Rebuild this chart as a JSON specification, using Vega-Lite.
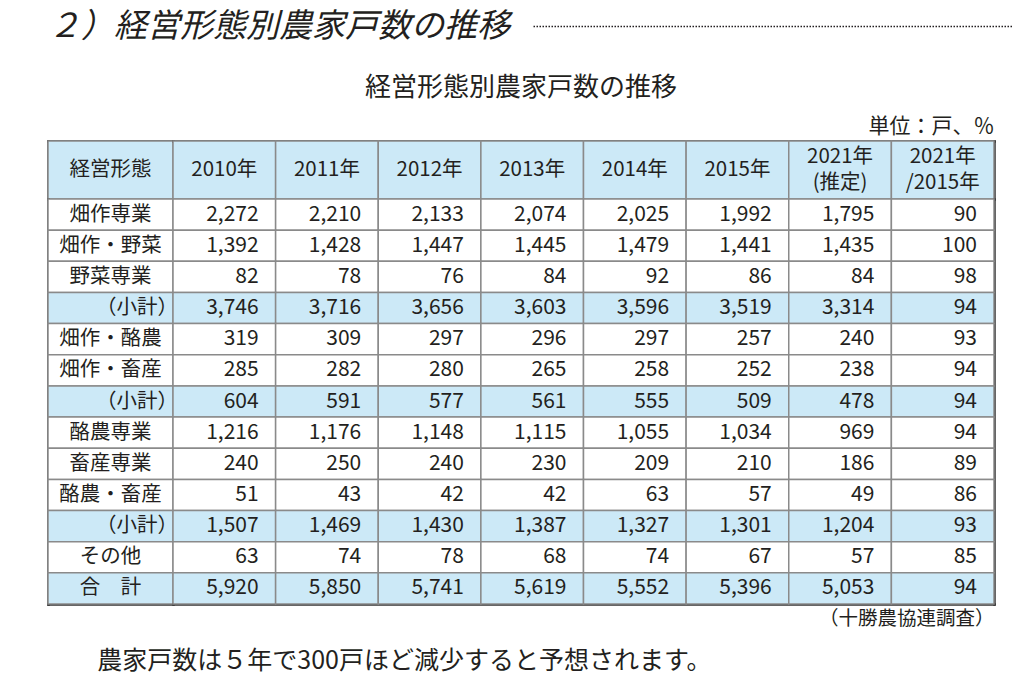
{
  "$schema": "https://vega.github.io/schema/vega-lite/v6.json",
  "background": "white",
  "padding": {"left": 47, "top": 11, "right": 0, "bottom": 8},
  "config": {
    "font": "Noto Sans CJK JP",
    "view": {"stroke": null},
    "axis": {
      "labels": false, "ticks": false, "grid": false,
      "domainColor": "#333333", "domainWidth": 2.5, "domainCap": "square", "zindex": 1,
      "titleFont": "Noto Sans CJK JP", "titleFontWeight": "normal", "titleColor": "#231f20"
    }
  },
  "datasets": {
    "cols": [
      {"col": "2010年", "label": "2010年"},
      {"col": "2011年", "label": "2011年"},
      {"col": "2012年", "label": "2012年"},
      {"col": "2013年", "label": "2013年"},
      {"col": "2014年", "label": "2014年"},
      {"col": "2015年", "label": "2015年"},
      {"col": "2021年(推定)", "label": "2021年\n(推定)"},
      {"col": "2021年/2015年", "label": "2021年\n/2015年"}
    ],
    "table": [
      {"no": 1, "形態": "畑作専業", "2010年": 2272, "2011年": 2210, "2012年": 2133, "2013年": 2074, "2014年": 2025, "2015年": 1992, "2021年(推定)": 1795, "2021年/2015年": 90},
      {"no": 2, "形態": "畑作・野菜", "2010年": 1392, "2011年": 1428, "2012年": 1447, "2013年": 1445, "2014年": 1479, "2015年": 1441, "2021年(推定)": 1435, "2021年/2015年": 100},
      {"no": 3, "形態": "野菜専業", "2010年": 82, "2011年": 78, "2012年": 76, "2013年": 84, "2014年": 92, "2015年": 86, "2021年(推定)": 84, "2021年/2015年": 98},
      {"no": 4, "形態": "（小計）", "2010年": 3746, "2011年": 3716, "2012年": 3656, "2013年": 3603, "2014年": 3596, "2015年": 3519, "2021年(推定)": 3314, "2021年/2015年": 94},
      {"no": 5, "形態": "畑作・酪農", "2010年": 319, "2011年": 309, "2012年": 297, "2013年": 296, "2014年": 297, "2015年": 257, "2021年(推定)": 240, "2021年/2015年": 93},
      {"no": 6, "形態": "畑作・畜産", "2010年": 285, "2011年": 282, "2012年": 280, "2013年": 265, "2014年": 258, "2015年": 252, "2021年(推定)": 238, "2021年/2015年": 94},
      {"no": 7, "形態": "（小計）", "2010年": 604, "2011年": 591, "2012年": 577, "2013年": 561, "2014年": 555, "2015年": 509, "2021年(推定)": 478, "2021年/2015年": 94},
      {"no": 8, "形態": "酪農専業", "2010年": 1216, "2011年": 1176, "2012年": 1148, "2013年": 1115, "2014年": 1055, "2015年": 1034, "2021年(推定)": 969, "2021年/2015年": 94},
      {"no": 9, "形態": "畜産専業", "2010年": 240, "2011年": 250, "2012年": 240, "2013年": 230, "2014年": 209, "2015年": 210, "2021年(推定)": 186, "2021年/2015年": 89},
      {"no": 10, "形態": "酪農・畜産", "2010年": 51, "2011年": 43, "2012年": 42, "2013年": 42, "2014年": 63, "2015年": 57, "2021年(推定)": 49, "2021年/2015年": 86},
      {"no": 11, "形態": "（小計）", "2010年": 1507, "2011年": 1469, "2012年": 1430, "2013年": 1387, "2014年": 1327, "2015年": 1301, "2021年(推定)": 1204, "2021年/2015年": 93},
      {"no": 12, "形態": "その他", "2010年": 63, "2011年": 74, "2012年": 78, "2013年": 68, "2014年": 74, "2015年": 67, "2021年(推定)": 57, "2021年/2015年": 85},
      {"no": 13, "形態": "合　計", "2010年": 5920, "2011年": 5850, "2012年": 5741, "2013年": 5619, "2014年": 5552, "2015年": 5396, "2021年(推定)": 5053, "2021年/2015年": 94}
    ]
  },
  "title": {
    "text": "農家戸数は５年で300戸ほど減少すると予想されます。",
    "orient": "bottom", "anchor": "start", "dx": 50, "offset": 21, "baseline": "top",
    "fontSize": 25, "fontWeight": "normal", "color": "#231f20"
  },
  "spacing": 31,
  "vconcat": [
    {
      "spacing": 22,
      "hconcat": [
        {
          "width": 1, "height": 1,
          "data": {"values": [{}]},
          "mark": {"type": "point", "opacity": 0, "size": 1},
          "title": {
            "text": "２）経営形態別農家戸数の推移",
            "anchor": "start", "baseline": "middle", "offset": -34,
            "fontSize": 33, "fontStyle": "italic", "fontWeight": "normal", "color": "#231f20"
          }
        },
        {
          "width": 480, "height": 1,
          "data": {"values": [{"v": 0}, {"v": 1}]},
          "mark": {"type": "point", "opacity": 0, "size": 1},
          "encoding": {
            "x": {
              "field": "v", "type": "quantitative",
              "axis": {"orient": "top", "title": null, "domainDash": [1.5, 1.5], "domainWidth": 1.5, "domainColor": "#231f20", "domainCap": "butt"}
            }
          }
        }
      ]
    },
    {
      "title": {"text": "経営形態別農家戸数の推移", "fontSize": 26, "fontWeight": "normal", "anchor": "middle", "offset": 14, "color": "#231f20"},
      "columns": 2,
      "spacing": 0,
      "bounds": "flush",
      "concat": [
        {
          "width": 125, "height": 58,
          "data": {"values": [{"label": "経営形態"}]},
          "encoding": {
            "x": {"field": "label", "type": "nominal", "scale": {"paddingInner": 0, "paddingOuter": 0}, "axis": {"orient": "top", "title": null}},
            "y": {"datum": "header", "type": "nominal", "scale": {"paddingInner": 0, "paddingOuter": 0}, "axis": {"orient": "left", "title": null}}
          },
          "layer": [
            {"mark": {"type": "rect", "fill": "#cce9f7", "stroke": "#8a8a8a", "strokeWidth": 1.5}},
            {"mark": {"type": "text", "fontSize": 20.5, "color": "#231f20"}, "encoding": {"text": {"field": "label"}}}
          ]
        },
        {
          "width": 821, "height": 58,
          "data": {"name": "cols"},
          "encoding": {
            "x": {"field": "col", "type": "nominal", "sort": null, "scale": {"paddingInner": 0, "paddingOuter": 0},
                  "axis": {"orient": "top", "title": "単位：戸、％", "titleAnchor": "end", "titlePadding": 5, "titleFontSize": 21}},
            "y": {"datum": "header", "type": "nominal", "scale": {"paddingInner": 0, "paddingOuter": 0}, "axis": {"orient": "right", "title": null}}
          },
          "layer": [
            {"mark": {"type": "rect", "fill": "#cce9f7", "stroke": "#8a8a8a", "strokeWidth": 1.5}},
            {
              "transform": [{"filter": "indexof(datum.col, '2021') < 0"}],
              "mark": {"type": "text", "fontSize": 20.5, "color": "#231f20"},
              "encoding": {"text": {"field": "label"}}
            },
            {
              "transform": [{"filter": "indexof(datum.col, '2021') >= 0"}],
              "mark": {"type": "text", "fontSize": 20.5, "color": "#231f20", "lineBreak": "\n", "lineHeight": 26, "dy": -13},
              "encoding": {"text": {"field": "label"}}
            }
          ]
        },
        {
          "width": 125, "height": 405,
          "data": {"name": "table"},
          "encoding": {
            "x": {"datum": "経営形態", "type": "nominal", "scale": {"paddingInner": 0, "paddingOuter": 0}, "axis": {"orient": "bottom", "title": null}},
            "y": {"field": "no", "type": "ordinal", "scale": {"paddingInner": 0, "paddingOuter": 0}, "axis": {"orient": "left", "title": null}}
          },
          "layer": [
            {
              "mark": {"type": "rect", "stroke": "#8a8a8a", "strokeWidth": 1.5},
              "encoding": {"fill": {"condition": {"test": "indexof(datum['形態'], '計') >= 0", "value": "#cce9f7"}, "value": "#ffffff"}}
            },
            {
              "transform": [{"filter": "datum['形態'] != '（小計）'"}],
              "mark": {"type": "text", "fontSize": 20.5, "color": "#231f20"},
              "encoding": {"text": {"field": "形態"}}
            },
            {
              "transform": [{"filter": "datum['形態'] == '（小計）'"}],
              "mark": {"type": "text", "fontSize": 20.5, "align": "right", "dx": 5, "color": "#231f20"},
              "encoding": {
                "x": {"datum": "経営形態", "type": "nominal", "bandPosition": 1},
                "text": {"field": "形態"}
              }
            }
          ]
        },
        {
          "width": 821, "height": 405,
          "data": {"name": "table"},
          "transform": [{"fold": ["2010年", "2011年", "2012年", "2013年", "2014年", "2015年", "2021年(推定)", "2021年/2015年"], "as": ["col", "value"]}],
          "encoding": {
            "x": {"field": "col", "type": "nominal", "sort": null, "scale": {"paddingInner": 0, "paddingOuter": 0},
                  "axis": {"orient": "bottom", "title": "（十勝農協連調査）", "titleAnchor": "end", "titlePadding": 5, "titleFontSize": 19.5}},
            "y": {"field": "no", "type": "ordinal", "scale": {"paddingInner": 0, "paddingOuter": 0}, "axis": {"orient": "right", "title": null}}
          },
          "layer": [
            {
              "mark": {"type": "rect", "stroke": "#8a8a8a", "strokeWidth": 1.5},
              "encoding": {"fill": {"condition": {"test": "indexof(datum['形態'], '計') >= 0", "value": "#cce9f7"}, "value": "#ffffff"}}
            },
            {
              "mark": {"type": "text", "fontSize": 21, "align": "right", "dx": -17, "color": "#231f20"},
              "encoding": {
                "x": {"field": "col", "type": "nominal", "sort": null, "bandPosition": 1},
                "text": {"field": "value", "type": "quantitative", "format": ","}
              }
            }
          ]
        }
      ]
    }
  ]
}
